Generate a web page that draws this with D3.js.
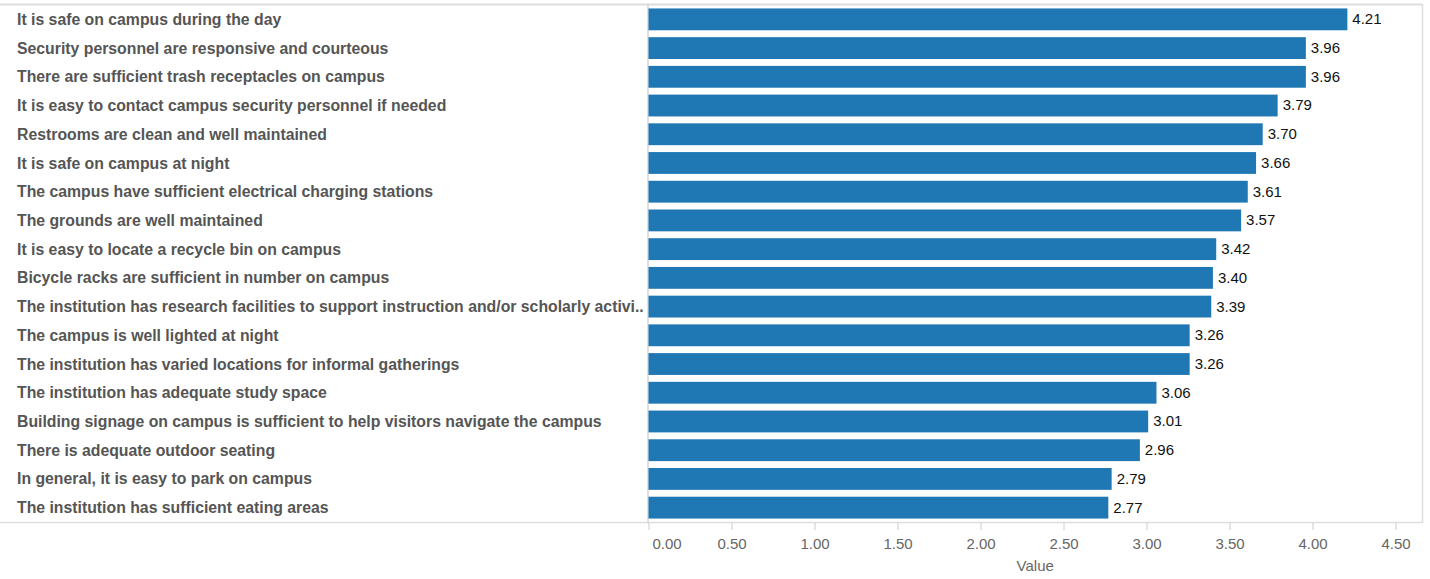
<!DOCTYPE html>
<html><head><meta charset="utf-8">
<script src="https://cdn.jsdelivr.net/npm/d3@7"></script>
<style>body{margin:0;background:#fff;} text{font-family:"Liberation Sans",Arial,sans-serif;}</style>
</head><body>
<svg id="c" width="1430" height="579"></svg>
<script>
const categories = [
"It is safe on campus during the day",
"Security personnel are responsive and courteous",
"There are sufficient trash receptacles on campus",
"It is easy to contact campus security personnel if needed",
"Restrooms are clean and well maintained",
"It is safe on campus at night",
"The campus have sufficient electrical charging stations",
"The grounds are well maintained",
"It is easy to locate a recycle bin on campus",
"Bicycle racks are sufficient in number on campus",
"The institution has research facilities to support instruction and/or scholarly activi..",
"The campus is well lighted at night",
"The institution has varied locations for informal gatherings",
"The institution has adequate study space",
"Building signage on campus is sufficient to help visitors navigate the campus",
"There is adequate outdoor seating",
"In general, it is easy to park on campus",
"The institution has sufficient eating areas"];
const values = [4.21,3.96,3.96,3.79,3.70,3.66,3.61,3.57,3.42,3.40,3.39,3.26,3.26,3.06,3.01,2.96,2.79,2.77];
const tickValues = [0,0.5,1,1.5,2,2.5,3,3.5,4,4.5];
const axisTitle = "Value";

(function(){
const svg = d3.select("#c");
const plotL = 648.5, plotR = 1422, plotTop = 5, plotBottom = 522;
const x = d3.scaleLinear().domain([0,4.5]).range([plotL, 1395.5]);
const y = d3.scaleBand().domain(categories).range([plotTop, plotBottom]).paddingInner(0.24).paddingOuter(0.12);

svg.append("line").attr("x1",0).attr("x2",plotR).attr("y1",4.5).attr("y2",4.5).attr("stroke","#ddd").attr("stroke-width",2);
svg.append("line").attr("x1",0).attr("x2",plotR).attr("y1",522.5).attr("y2",522.5).attr("stroke","#ddd").attr("stroke-width",1.5);
svg.append("line").attr("x1",plotR+0.5).attr("x2",plotR+0.5).attr("y1",4).attr("y2",523).attr("stroke","#ddd").attr("stroke-width",1.5);
svg.append("line").attr("x1",648).attr("x2",648).attr("y1",4).attr("y2",523).attr("stroke","#ccc").attr("stroke-width",1.2);

svg.selectAll("rect.bar").data(values).join("rect").attr("class","bar")
  .attr("x", x(0)).attr("y",(d,i)=>y(categories[i])).attr("width",d=>x(d)-x(0)).attr("height",y.bandwidth())
  .attr("fill","#1f77b4");

svg.selectAll("text.val").data(values).join("text").attr("class","val")
  .attr("x",d=>x(d)+5).attr("y",(d,i)=>y(categories[i])+y.bandwidth()/2).attr("dy","0.33em")
  .attr("font-size",15).attr("fill","#111").text(d=>d.toFixed(2));

svg.selectAll("text.cat").data(categories).join("text").attr("class","cat")
  .attr("x",17).attr("y",d=>y(d)+y.bandwidth()/2).attr("dy","0.35em")
  .attr("font-size",15.8).attr("font-weight","bold").attr("fill","#555").text(d=>d);

const ax = svg.append("g").attr("transform","translate(0,523)")
  .call(d3.axisBottom(x).tickValues(tickValues).tickSize(7).tickFormat(d3.format(".2f")));
ax.select(".domain").remove();
ax.selectAll(".tick line").attr("stroke","#ccc");
ax.selectAll(".tick text").attr("font-family","Liberation Sans, Arial, sans-serif").attr("font-size",15).attr("fill","#666").attr("y",15)
  .attr("dx",d=>d===0?18:0);
svg.append("text").attr("x",(plotL+plotR)/2).attr("y",571).attr("text-anchor","middle").attr("font-size",15).attr("fill","#666").text(axisTitle);
})();
</script>
</body></html>
